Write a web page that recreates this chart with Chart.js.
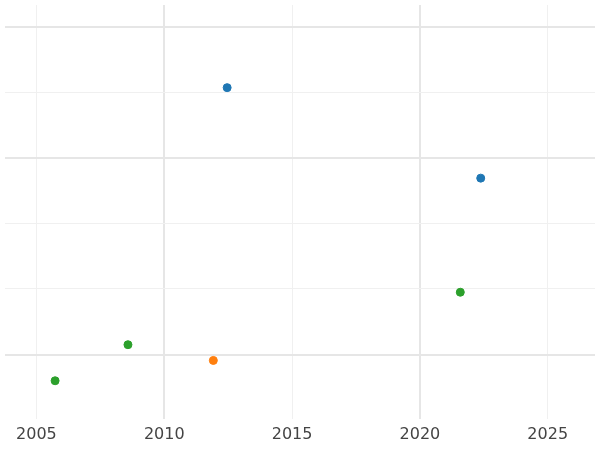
<!DOCTYPE html>
<html><head><script src="https://cdn.jsdelivr.net/npm/chart.js"></script>
<style>body{margin:0}</style></head>
<body><canvas id="c" width="600" height="450"></canvas>
<script>
const blueX = [2012.46, 2022.38];
const blueY = [4.07, 2.69];
const greenX = [2021.58, 2008.58, 2005.73];
const greenY = [0.95, 0.15, -0.40];
const orangeX = [2011.92];
const orangeY = [-0.09];
const xTicks = [2005, 2010, 2015, 2020, 2025];
const yTicks = [0, 1, 2, 3, 4, 5];

const pts = (xs, ys) => xs.map((x, i) => ({x: x, y: ys[i]}));
const mk = (xs, ys, color) => ({
  data: pts(xs, ys), backgroundColor: color, borderColor: color, pointRadius: 4, pointHoverRadius: 4
});

new Chart(document.getElementById('c'), {
  type: 'scatter',
  data: {datasets: [mk(blueX, blueY, '#1f77b4'), mk(greenX, greenY, '#2ca02c'), mk(orangeX, orangeY, '#ff7f0e')]},
  options: {
    responsive: false, animation: false,
    layout: {padding: {left: -5, right: -5, top: -5, bottom: 0}},
    plugins: {legend: {display: false}, tooltip: {enabled: false}},
    scales: {
      x: {
        min: 2003.77, max: 2026.85,
        afterBuildTicks: (a) => { a.ticks = xTicks.map(v => ({value: v})); },
        border: {display: false},
        grid: {
          color: (c) => (c.tick && c.tick.value % 10 === 0) ? '#e6e6e6' : '#f0f0f0',
          lineWidth: (c) => (c.tick && c.tick.value % 10 === 0) ? 2 : 1,
          drawTicks: false
        },
        ticks: {color: '#444', font: {family: 'DejaVu Sans', size: 16}, padding: 6, callback: (v) => String(v)}
      },
      y: {
        min: -0.98, max: 5.33,
        afterBuildTicks: (a) => { a.ticks = yTicks.map(v => ({value: v})); },
        border: {display: false},
        grid: {
          color: (c) => (c.tick && [0, 3, 5].includes(c.tick.value)) ? '#e6e6e6' : '#f0f0f0',
          lineWidth: (c) => (c.tick && [0, 3, 5].includes(c.tick.value)) ? 2 : 1,
          drawTicks: false
        },
        ticks: {display: false}
      }
    }
  }
});
</script></body></html>
